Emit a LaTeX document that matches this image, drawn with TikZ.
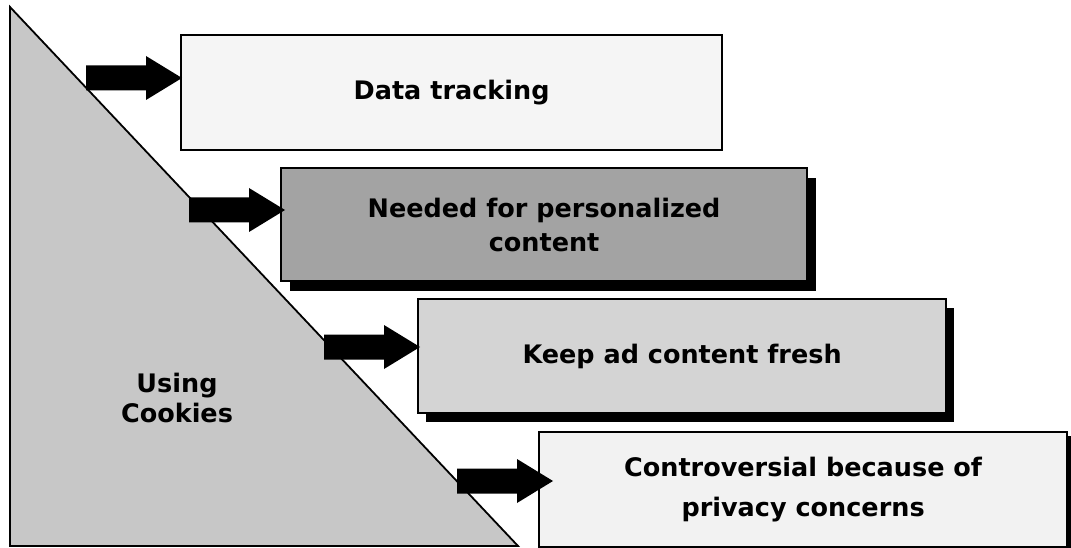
\documentclass[tikz,border=0pt]{standalone}
\usepackage{fontspec}
\setmainfont{DejaVu Sans}
\usetikzlibrary{shadows}
\tikzset{
  box/.style={draw=black, line width=2.2pt, anchor=north west, inner sep=0pt,
    align=center, font=\fontsize{25.5}{34}\selectfont\bfseries, text=black},
  tri/.style={draw=black, line width=1.8pt, fill=black!22},
  fatarrow/.style={fill=black}
}
\begin{document}
\begin{tikzpicture}[x=1pt,y=-1pt]
\useasboundingbox[fill=white] (0,0) rectangle (1071,548);
% triangle
\coordinate (ta) at (10,7);
\coordinate (tb) at (10,546);
\coordinate (tc) at (518,546);
\draw[tri] (ta) -- (tb) -- (tc) -- cycle;
\node[font=\fontsize{25.5}{30}\selectfont\bfseries, align=center] (cookies) at (177,398) {Using\\Cookies};
% boxes
\node[box, fill=black!4, minimum width=541pt, minimum height=115pt] (b1) at (180,34) {Data tracking};
\node[box, fill=black!36, minimum width=526pt, minimum height=113pt,
  drop shadow={shadow xshift=9pt, shadow yshift=-10pt, fill=black, opacity=1}] (b2) at (280,167) {Needed for personalized\\content};
\node[box, fill=black!17, minimum width=528pt, minimum height=114pt,
  drop shadow={shadow xshift=8pt, shadow yshift=-9pt, fill=black, opacity=1}] (b3) at (417,298) {Keep ad content fresh};
\node[box, fill=black!5, minimum width=528pt, minimum height=115pt,
  font=\fontsize{25.5}{40}\selectfont\bfseries,
  drop shadow={shadow xshift=4pt, shadow yshift=-4pt, fill=black, opacity=1}] (b4) at (538,431) {Controversial because of\\privacy concerns};
% arrows
\coordinate (t1) at (182,78);
\coordinate (t2) at (285,210);
\coordinate (t3) at (420,347);
\coordinate (t4) at (553,481);
\foreach \t in {t1,t2,t3,t4}{
  \fill[fatarrow, shift={(\t)}] (0,0) -- (-36,-22) -- (-36,-12.5) -- (-96,-12.5)
    -- (-96,12.5) -- (-36,12.5) -- (-36,22) -- cycle;
}
\end{tikzpicture}
\end{document}
